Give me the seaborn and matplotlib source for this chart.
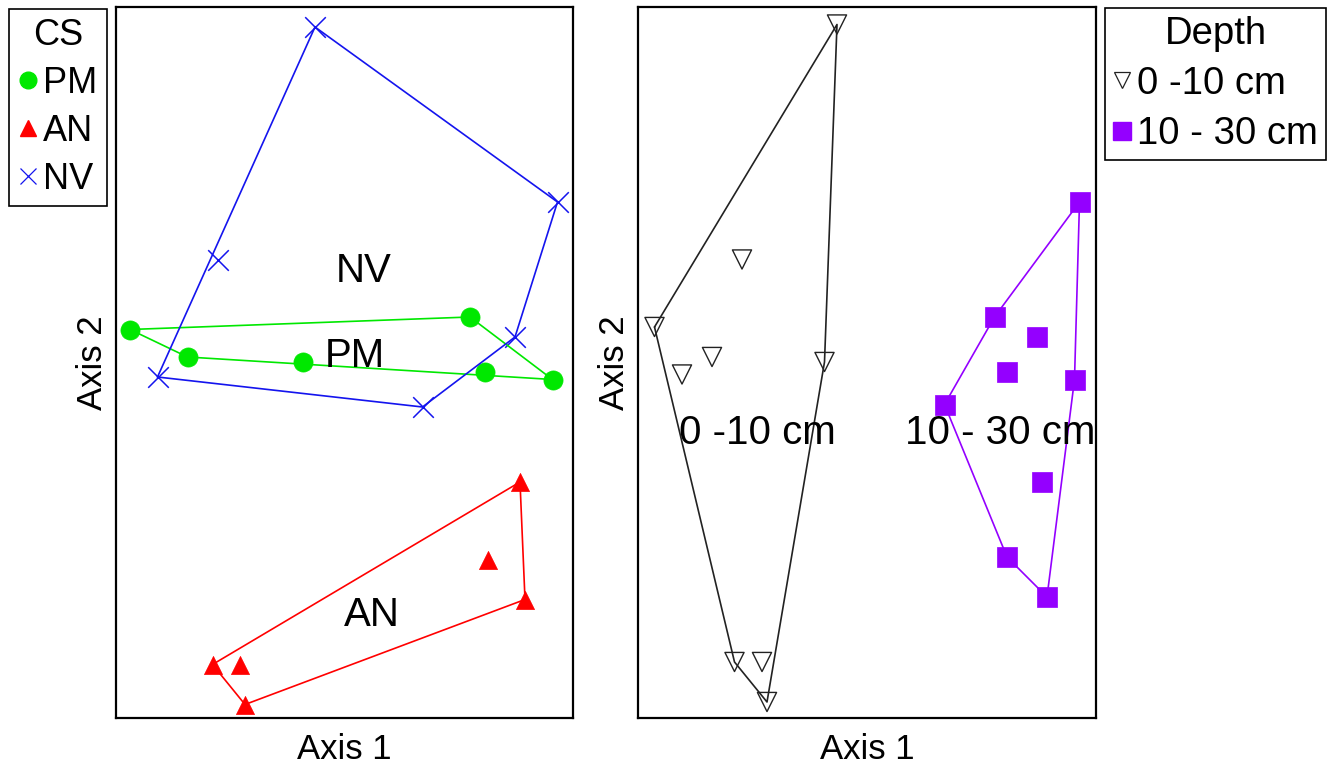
import numpy as np
import pandas as pd
import seaborn as sns
import matplotlib
matplotlib.use("Agg")
import matplotlib.pyplot as plt
from matplotlib.lines import Line2D

# ---------------- data (ordination scores) ----------------
cs_groups = ["PM", "AN", "NV"]
pm_x = [-0.86, 0.50, -0.63, -0.17, 0.56, 0.83]
pm_y = [0.13, 0.18, 0.02, 0.00, -0.04, -0.07]
an_x = [0.70, 0.57, 0.72, -0.53, -0.42, -0.40]
an_y = [-0.48, -0.79, -0.95, -1.21, -1.21, -1.37]
nv_x = [-0.12, 0.85, -0.51, 0.68, -0.75, 0.31]
nv_y = [1.34, 0.64, 0.41, 0.10, -0.06, -0.18]

depth_groups = ["0 -10 cm", "10 - 30 cm"]
d1_x = [-0.12, -0.50, -0.85, -0.62, -0.74, -0.17, -0.53, -0.42, -0.40]
d1_y = [1.35, 0.41, 0.14, 0.02, -0.05, 0.00, -1.20, -1.20, -1.36]
d2_x = [0.85, 0.51, 0.68, 0.56, 0.83, 0.31, 0.70, 0.56, 0.72]
d2_y = [0.64, 0.18, 0.10, -0.04, -0.07, -0.17, -0.48, -0.78, -0.94]

cs_df = pd.DataFrame({
    "x": pm_x + an_x + nv_x,
    "y": pm_y + an_y + nv_y,
    "CS": ["PM"] * len(pm_x) + ["AN"] * len(an_x) + ["NV"] * len(nv_x),
})
depth_df = pd.DataFrame({
    "x": d1_x + d2_x,
    "y": d1_y + d2_y,
    "Depth": [depth_groups[0]] * len(d1_x) + [depth_groups[1]] * len(d2_x),
})

# ---------------- styling ----------------
sns.set_theme(style="white")
plt.rcParams["font.family"] = ["Liberation Sans", "DejaVu Sans"]
plt.rcParams["text.color"] = "black"
plt.rcParams["axes.labelcolor"] = "black"

cs_colors = {"PM": "#00e800", "AN": "#ff0000", "NV": "#1414ee"}
cs_markers = {"PM": "o", "AN": "^", "NV": "x"}
depth_colors = {"0 -10 cm": "#222222", "10 - 30 cm": "#9400ff"}


def convex_hull(px, py):
    pts = sorted(set(zip(px, py)))
    if len(pts) < 3:
        return pts

    def cross(o, a, b):
        return (a[0] - o[0]) * (b[1] - o[1]) - (a[1] - o[1]) * (b[0] - o[0])

    lower, upper = [], []
    for p in pts:
        while len(lower) >= 2 and cross(lower[-2], lower[-1], p) <= 0:
            lower.pop()
        lower.append(p)
    for p in reversed(pts):
        while len(upper) >= 2 and cross(upper[-2], upper[-1], p) <= 0:
            upper.pop()
        upper.append(p)
    hull = lower[:-1] + upper[:-1]
    return hull + [hull[0]]


fig = plt.figure(figsize=(13.34, 7.65), dpi=100)
W, H = 1334, 765
ax1 = fig.add_axes([116 / W, (H - 718) / H, 457 / W, 711 / H])
ax2 = fig.add_axes([638 / W, (H - 718) / H, 458 / W, 711 / H])

# ---------------- left panel: CS ----------------
for g in cs_groups:
    sub = cs_df[cs_df["CS"] == g]
    if cs_markers[g] == "x":
        sns.scatterplot(data=sub, x="x", y="y", marker="x", color=cs_colors[g],
                        s=220, linewidth=1.1, ax=ax1, legend=False, zorder=2)
    else:
        sns.scatterplot(data=sub, x="x", y="y", marker=cs_markers[g], color=cs_colors[g],
                        edgecolor=cs_colors[g], s=190 if g == "PM" else 170,
                        linewidth=0.5, ax=ax1, legend=False, zorder=2)
    hull = convex_hull(sub["x"].tolist(), sub["y"].tolist())
    hx, hy = zip(*hull)
    ax1.plot(hx, hy, color=cs_colors[g], lw=1.2, zorder=3)
    ax1.annotate(g, xy=(sub["x"].mean(), sub["y"].mean()), xytext=(0, -10),
                 textcoords="offset points", ha="center", va="baseline",
                 fontsize=29, color="black", zorder=4)

# ---------------- right panel: Depth ----------------
depth_label_pos = {"0 -10 cm": (-0.44, -0.272), "10 - 30 cm": (0.532, -0.272)}
for g in depth_groups:
    sub = depth_df[depth_df["Depth"] == g]
    if g == depth_groups[0]:
        sns.scatterplot(data=sub, x="x", y="y", marker="v", color="black",
                        facecolor="none", edgecolor="#222222", s=190,
                        linewidth=1.0, ax=ax2, legend=False, zorder=2)
    else:
        sns.scatterplot(data=sub, x="x", y="y", marker="s", color=depth_colors[g],
                        edgecolor=depth_colors[g], s=190, linewidth=0.5,
                        ax=ax2, legend=False, zorder=2)
    hull = convex_hull(sub["x"].tolist(), sub["y"].tolist())
    hx, hy = zip(*hull)
    ax2.plot(hx, hy, color=depth_colors[g], lw=1.2, zorder=3)
    lx, ly = depth_label_pos[g]
    ax2.annotate(g, xy=(lx, ly), xytext=(0, -10), textcoords="offset points",
                 ha="center", va="baseline", fontsize=29, color="black", zorder=4)

for ax, xl in ((ax1, (-0.916, 0.912)), (ax2, (-0.916, 0.916))):
    ax.set_xlim(*xl)
    ax.set_ylim(-1.424, 1.42)
    ax.set_xticks([])
    ax.set_yticks([])
    ax.set_xlabel("Axis 1", fontsize=25, labelpad=11, color="black")
    ax.set_ylabel("Axis 2", fontsize=25, labelpad=5, color="black")
    for sp in ax.spines.values():
        sp.set_visible(True)
        sp.set_color("black")
        sp.set_linewidth(1.6)

# ---------------- legends ----------------
cs_handles = [
    Line2D([], [], ls="none", marker="o", ms=12, color=cs_colors["PM"], mec=cs_colors["PM"]),
    Line2D([], [], ls="none", marker="^", ms=12, color=cs_colors["AN"], mec=cs_colors["AN"]),
    Line2D([], [], ls="none", marker="x", ms=12, mew=0.9, color=cs_colors["NV"]),
]
leg1 = fig.legend(cs_handles, cs_groups, title="CS", loc="upper left",
                  bbox_to_anchor=(9 / W, 1 - 9 / H), fontsize=26, title_fontsize=26,
                  frameon=True, fancybox=False, edgecolor="black", framealpha=1,
                  handlelength=0.55, handletextpad=0.15, borderpad=0.25,
                  labelspacing=0.36, borderaxespad=0, labelcolor="black")
leg1.get_frame().set_linewidth(1.2)
leg1.get_title().set_color("black")

depth_handles = [
    Line2D([], [], ls="none", marker="v", ms=11, mfc="none", mec="#222222", mew=0.9),
    Line2D([], [], ls="none", marker="s", ms=13, color=depth_colors["10 - 30 cm"]),
]
leg2 = fig.legend(depth_handles, depth_groups, title="Depth", loc="upper left",
                  bbox_to_anchor=(1105 / W, 1 - 8 / H), fontsize=27.5, title_fontsize=27.5,
                  frameon=True, fancybox=False, edgecolor="black", framealpha=1,
                  handlelength=0.5, handletextpad=0.15, borderpad=0.2,
                  labelspacing=0.37, borderaxespad=0, labelcolor="black")
leg2.get_frame().set_linewidth(1.2)
leg2.get_title().set_color("black")

fig.savefig("out.png", dpi=100, facecolor="white")
